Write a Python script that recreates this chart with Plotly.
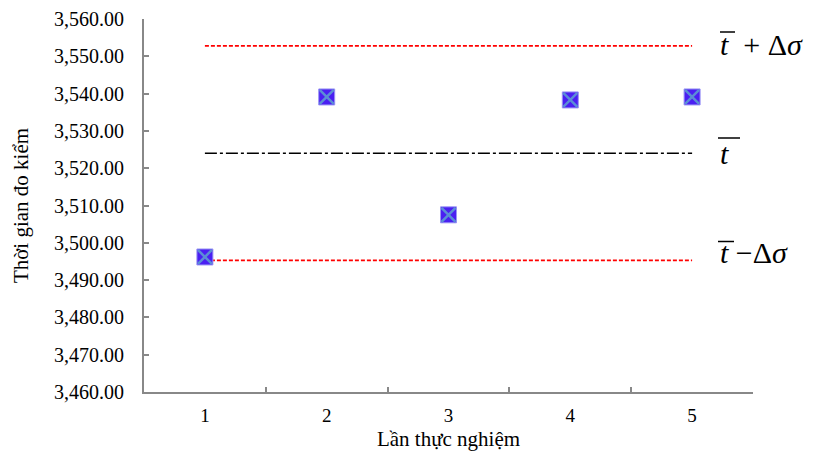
import plotly.graph_objects as go

categories = ["1", "2", "3", "4", "5"]
times = [3496.2, 3539.1, 3507.5, 3538.3, 3539.1]
mean_val = [3524.0] * 5
upper_val = [3552.8] * 5
lower_val = [3495.3] * 5
y_ticks = [3460, 3470, 3480, 3490, 3500, 3510, 3520, 3530, 3540, 3550, 3560]

FONT = "Times New Roman, Liberation Serif, DejaVu Serif, serif"
L, R, T, B = 144, 65, 19, 63
W, H = 818, 455
PW, PH = W - L - R, H - T - B

def px(x):
    return (x - L) / PW

def py(y):
    return (H - B - y) / PH

fig = go.Figure()
fig.add_trace(go.Scatter(x=categories, y=upper_val, mode="lines",
                         line=dict(color="#ff0000", width=1.6, dash="4px,2px"), hoverinfo="skip"))
fig.add_trace(go.Scatter(x=categories, y=lower_val, mode="lines",
                         line=dict(color="#ff0000", width=1.6, dash="4px,2px"), hoverinfo="skip"))
fig.add_trace(go.Scatter(x=categories, y=mean_val, mode="lines",
                         line=dict(color="#000000", width=1.5, dash="12px,3px,3px,3px"), hoverinfo="skip"))
fig.add_trace(go.Scatter(x=categories, y=times, mode="markers",
                         marker=dict(symbol="square", size=16, color="#4a1ff2",
                                     line=dict(color="#9b95f5", width=1))))
fig.add_trace(go.Scatter(x=categories, y=times, mode="markers",
                         marker=dict(symbol="x-thin", size=14,
                                     line=dict(color="#5b8dd6", width=2.5))))

ann = []
ann.append(dict(x=px(718), y=py(44), xref="paper", yref="paper", xanchor="left", yanchor="middle",
                text="<i>t</i>  + Δ<i>σ</i>", showarrow=False, font=dict(family=FONT, size=30, color="black")))
ann.append(dict(x=px(718), y=py(153), xref="paper", yref="paper", xanchor="left", yanchor="middle",
                text="<i>t</i>", showarrow=False, font=dict(family=FONT, size=30, color="black")))
ann.append(dict(x=px(718), y=py(252), xref="paper", yref="paper", xanchor="left", yanchor="middle",
                text="<i>t</i> −Δ<i>σ</i>", showarrow=False, font=dict(family=FONT, size=30, color="black")))

shapes = []
for (x0, x1, yy) in [(720, 735, 32), (718, 740, 138), (718, 734, 241.5)]:
    shapes.append(dict(type="line", xref="paper", yref="paper", x0=px(x0), x1=px(x1),
                       y0=py(yy), y1=py(yy), line=dict(color="black", width=1.5)))

fig.update_layout(
    width=W, height=H, margin=dict(l=L, r=R, t=T, b=B),
    paper_bgcolor="white", plot_bgcolor="white", showlegend=False,
    font=dict(family=FONT, size=18, color="black"),
    annotations=ann, shapes=shapes,
    xaxis=dict(type="category", tickson="boundaries", ticks="inside", ticklen=5,
               tickcolor="#888888", tickwidth=2, showline=True, linecolor="#888888", linewidth=2,
               showgrid=False, zeroline=False, range=[-0.5, 4.5], ticklabelstandoff=5,
               automargin=False,
               title=dict(text="Lần thực nghiệm", font=dict(family=FONT, size=21), standoff=7),
               tickfont=dict(family=FONT, size=19)),
    yaxis=dict(range=[3460, 3560], tickvals=y_ticks, tickformat=",.2f", ticks="inside", ticklen=5,
               tickcolor="#888888", tickwidth=2, showline=True, linecolor="#888888", linewidth=2,
               showgrid=False, zeroline=False, ticklabelstandoff=14, automargin=False,
               title=dict(text="Thời gian đo kiểm", font=dict(family=FONT, size=21), standoff=20),
               tickfont=dict(family=FONT, size=20)),
)
fig.write_html("out.html")
